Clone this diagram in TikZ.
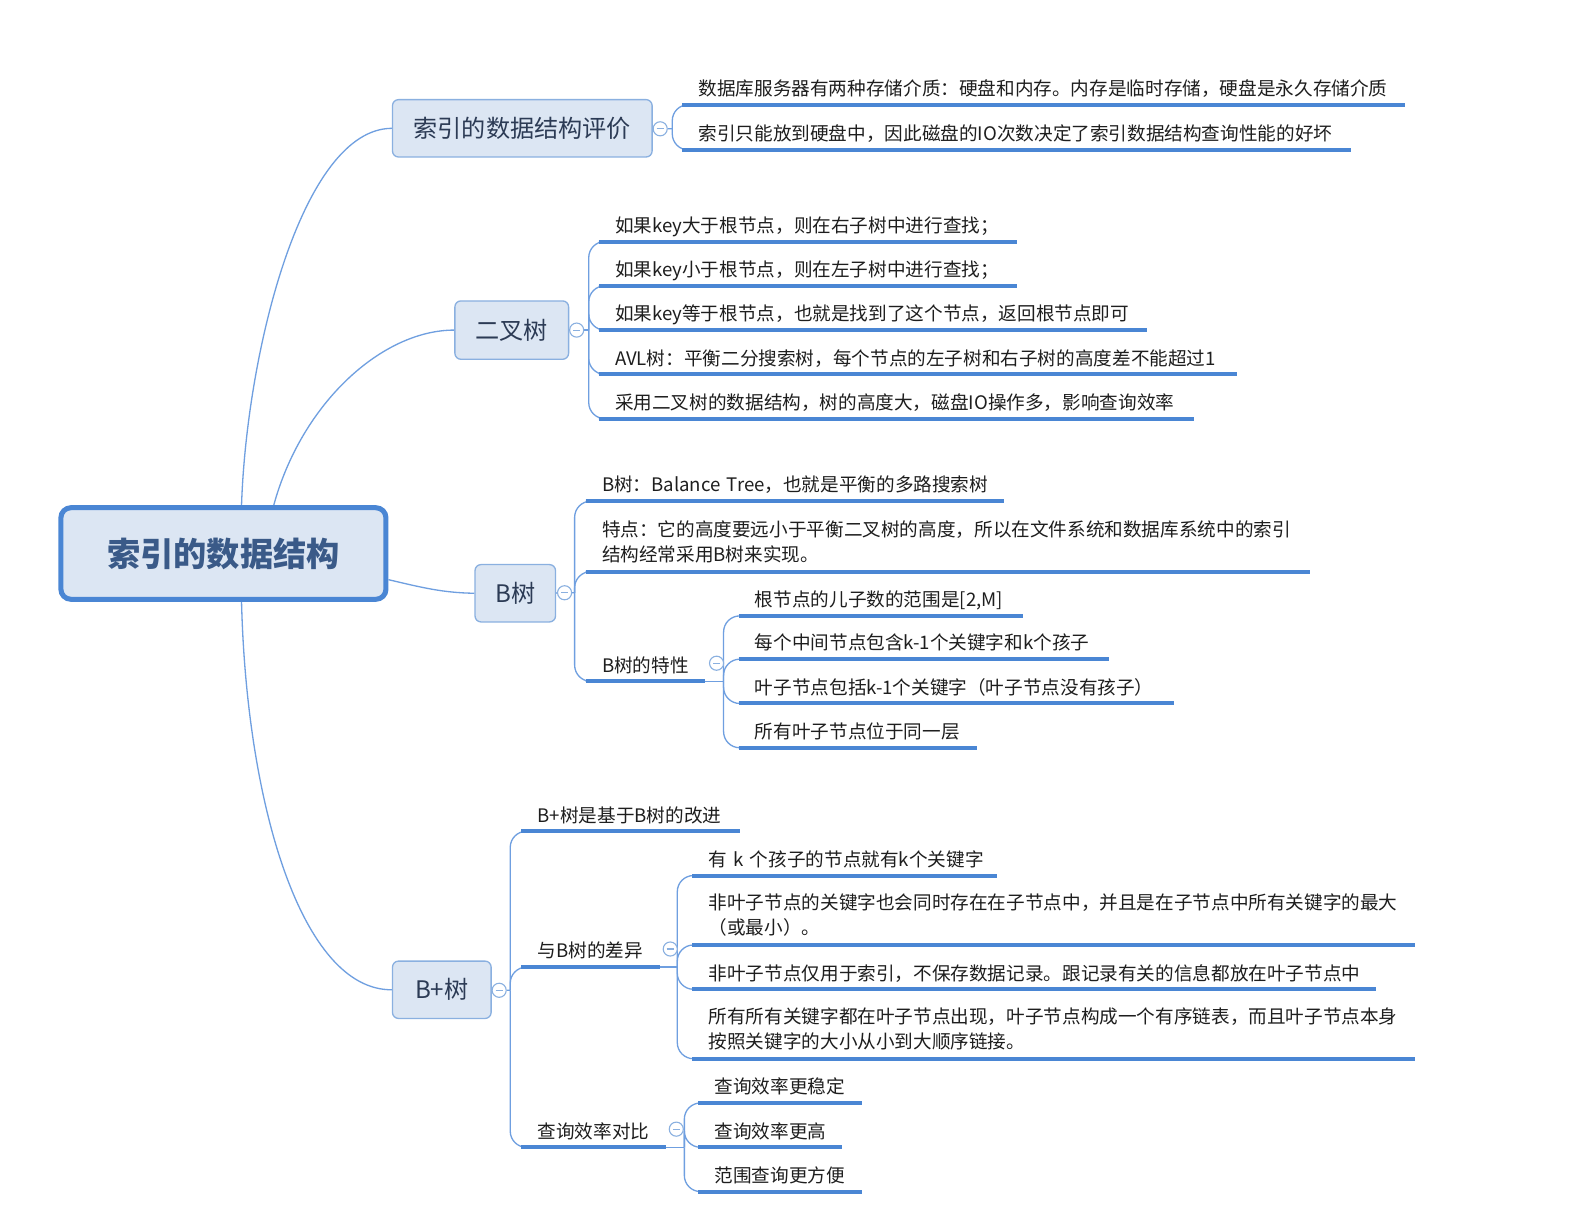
\documentclass[tikz,border=0pt]{standalone}
\usepackage{fontspec}
\setmainfont{Noto Sans CJK SC}
\usetikzlibrary{backgrounds}
\definecolor{rootblue}{HTML}{4A86D4}
\definecolor{boxfill}{HTML}{DCE6F3}
\definecolor{boxline}{HTML}{8AB0E0}
\definecolor{connblue}{HTML}{6F9FE0}
\definecolor{ulblue}{HTML}{4A86D4}
\definecolor{roottext}{HTML}{3A5A88}
\definecolor{topictext}{HTML}{2C3B55}
\definecolor{leaftext}{HTML}{1E1E1E}
\begin{document}
\begin{tikzpicture}[x=1pt,y=-1pt,
  rootbox/.style={draw=rootblue, line width=5pt, fill=boxfill, rounded corners=10pt,
    minimum width=323pt, minimum height=91pt, inner sep=0pt,
    font=\fontsize{33}{40}\selectfont\bfseries, text=roottext},
  topic/.style={draw=boxline, line width=1.3pt, fill=boxfill, rounded corners=6pt,
    inner sep=0pt, font=\fontsize{24}{30}\selectfont, text=topictext},
  leaf/.style={anchor=south west, inner xsep=16pt, inner ysep=9pt, text depth=0pt,
    align=left, font=\fontsize{18.5}{25}\selectfont, text=leaftext},
  leaftwo/.style={leaf, text depth=25pt, inner ysep=10pt},
  uline/.style={draw=ulblue, line width=4pt},
  conn/.style={draw=connblue, line width=1.3pt},
  elbow/.style={draw=connblue, line width=1.3pt, rounded corners=16pt},
  fold/.style={circle, draw=boxline, fill=white, line width=1.1pt, minimum size=14pt, inner sep=0pt,
    path picture={\draw[boxline, line width=1.1pt] ([xshift=-3.5pt]path picture bounding box.center) -- ([xshift=3.5pt]path picture bounding box.center);}}
]
\useasboundingbox (0,0) rectangle (1568,1222);
\begin{pgfonlayer}{background}
\fill[white] (0,0) rectangle (1568,1222);
\end{pgfonlayer}

% root
\node[rootbox] (root) at (222,550) {索引的数据结构};

% level 1
\node[topic, minimum width=258pt, minimum height=57pt] (t1) at (519,127.5) {索引的数据结构评价};
\node[topic, minimum width=113pt, minimum height=58pt] (t2) at (508.5,328) {二叉树};
\node[topic, minimum width=80pt, minimum height=57pt] (t3) at (512,589.5) {B树};
\node[topic, minimum width=98pt, minimum height=57pt] (t4) at (439,983.5) {B+树};

\node[fold] (f1) at (656,128) {};
\node[fold] (f2) at (573,328) {};
\node[fold] (f3) at (561,589) {};
\node[fold] (f4) at (496,984) {};

\coordinate (j1) at (668,128);
\coordinate (j2) at (585,328);
\coordinate (j3) at (571,589);
\coordinate (j4) at (507,984);

% group 1
\node[leaf, text width=686pt] (a1) at (678,104) {数据库服务器有两种存储介质：硬盘和内存。内存是临时存储，硬盘是永久存储介质};
\node[leaf, text width=632pt] (a2) at (678,149) {索引只能放到硬盘中，因此磁盘的IO次数决定了索引数据结构查询性能的好坏};

% group 2
\node[leaf, text width=383pt] (b1) at (595,240) {如果key大于根节点，则在右子树中进行查找；};
\node[leaf, text width=383pt] (b2) at (595,284) {如果key小于根节点，则在左子树中进行查找；};
\node[leaf, text width=512pt] (b3) at (595,328) {如果key等于根节点，也就是找到了这个节点，返回根节点即可};
\node[leaf, text width=602pt] (b4) at (595,372) {AVL树：平衡二分搜索树，每个节点的左子树和右子树的高度差不能超过1};
\node[leaf, text width=559pt] (b5) at (595,416) {采用二叉树的数据结构，树的高度大，磁盘IO操作多，影响查询效率};

% group 3
\node[leaf, text width=383pt] (c1) at (582,498) {B树：Balance~Tree，也就是平衡的多路搜索树};
\node[leaftwo, text width=687pt] (c2) at (582,568) {特点：它的高度要远小于平衡二叉树的高度，所以在文件系统和数据库系统中的索引\\结构经常采用B树来实现。};
\node[leaf, text width=86pt] (c3) at (582,677) {B树的特性};
\node[fold] (fb) at (712,659) {};
\coordinate (jb) at (719,677);
\node[leaf, text width=250pt] (d1) at (734,612) {根节点的儿子数的范围是[2,M]};
\node[leaf, text width=336pt] (d2) at (734,655) {每个中间节点包含k-1个关键字和k个孩子};
\node[leaf, text width=400pt] (d3) at (734,699) {叶子节点包括k-1个关键字（叶子节点没有孩子）};
\node[leaf, text width=204pt] (d4) at (734,743) {所有叶子节点位于同一层};

% group 4
\node[leaf, text width=185pt] (e1) at (518,826) {B+树是基于B树的改进};
\node[leaf, text width=105pt] (e2) at (518,961) {与B树的差异};
\node[leaf, text width=111pt] (e3) at (518,1140) {查询效率对比};
\node[fold] (fd) at (666,943) {};
\node[fold] (fq) at (672,1122) {};
\coordinate (jd) at (673,961);
\coordinate (jq) at (680,1140);
\node[leaf, text width=270pt] (g1) at (688,870) {有~k~个孩子的节点就有k个关键字};
\node[leaftwo, text width=686pt] (g2) at (688,939) {非叶子节点的关键字也会同时存在在子节点中，并且是在子节点中所有关键字的最大\\（或最小）。};
\node[leaf, text width=647pt] (g3) at (688,983) {非叶子节点仅用于索引，不保存数据记录。跟记录有关的信息都放在叶子节点中};
\node[leaftwo, text width=686pt] (g4) at (688,1052) {所有所有关键字都在叶子节点出现，叶子节点构成一个有序链表，而且叶子节点本身\\按照关键字的大小从小到大顺序链接。};
\node[leaf, text width=130pt] (h1) at (694,1096) {查询效率更稳定};
\node[leaf, text width=110pt] (h2) at (694,1140) {查询效率更高};
\node[leaf, text width=130pt] (h3) at (694,1184) {范围查询更方便};

% underlines
\foreach \n in {a1,a2,b1,b2,b3,b4,b5,c1,c2,c3,d1,d2,d3,d4,e1,e2,e3,g1,g2,g3,g4,h1,h2,h3}
  \draw[uline] (\n.south west) -- (\n.south east);

\begin{pgfonlayer}{background}
% root connectors
\draw[conn] ([xshift=18pt]root.north) .. controls (245,350) and (300,128) .. (t1.west);
\draw[conn] ([xshift=50pt]root.north) .. controls (300,400) and (380,328) .. (t2.west);
\draw[conn] ([yshift=-26pt]root.east) .. controls (420,584) and (440,589) .. (t3.west);
\draw[conn] ([xshift=18pt]root.south) .. controls (245,800) and (300,984) .. (t4.west);
% topic to fold to junction
\foreach \t/\f/\j in {t1/f1/j1, t2/f2/j2, t3/f3/j3, t4/f4/j4}
  \draw[conn] (\t.east) -- (\f.west) (\f.east) -- (\j);
\draw[conn] (c3.south east) -- (jb);
\draw[conn] (e2.south east) -- (jd);
\draw[conn] (e3.south east) -- (jq);
% elbows
\foreach \n in {a1,a2} \draw[elbow] (j1) |- (\n.south west);
\foreach \n in {b1,b2,b3,b4,b5} \draw[elbow] (j2) |- (\n.south west);
\foreach \n in {c1,c2,c3} \draw[elbow] (j3) |- (\n.south west);
\foreach \n in {d1,d2,d3,d4} \draw[elbow] (jb) |- (\n.south west);
\foreach \n in {e1,e2,e3} \draw[elbow] (j4) |- (\n.south west);
\foreach \n in {g1,g2,g3,g4} \draw[elbow] (jd) |- (\n.south west);
\foreach \n in {h1,h2,h3} \draw[elbow] (jq) |- (\n.south west);
\end{pgfonlayer}
\end{tikzpicture}
\end{document}
